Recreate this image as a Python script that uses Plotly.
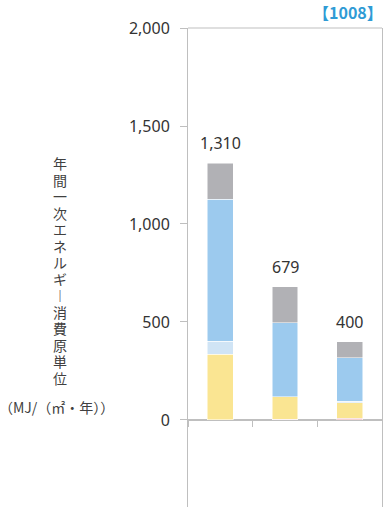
import plotly.graph_objects as go

# ---- data ----
categories = ["A", "B", "C"]
seg_pink = [0, 4, 8]
seg_yellow = [336, 115, 79]
seg_paleblue = [67, 0, 8]
seg_blue = [723, 378, 223]
seg_gray = [184, 182, 82]
totals = [1310, 679, 400]
y_ticks = [0, 500, 1000, 1500, 2000]

y_min, y_max = -444, 2000

series = [
    ("pink", seg_pink, "#E8A3A3"),
    ("yellow", seg_yellow, "#FAE592"),
    ("paleblue", seg_paleblue, "#D0E4F5"),
    ("blue", seg_blue, "#9CCAEE"),
    ("gray", seg_gray, "#B1B1B5"),
]

FONT = "Noto Sans CJK JP"
NUMFONT = "Noto Sans"
TXT = "#404040"
AX = "#BFBFBF"

fig = go.Figure()
for name, vals, col in series:
    fig.add_trace(go.Bar(
        x=categories, y=vals, name=name,
        marker=dict(color=col, line=dict(color="white", width=0.5)),
        width=0.4, hoverinfo="skip",
    ))

for c, t in zip(categories, totals):
    fig.add_annotation(x=c, y=t, text=f"{t:,}", showarrow=False,
                       yanchor="middle", yshift=20,
                       font=dict(family=NUMFONT, size=16, color="#333333"))

zero_pos = (0 - y_min) / (y_max - y_min)

fig.update_layout(
    width=384, height=507,
    margin=dict(l=188, r=2, t=28, b=0),
    barmode="stack",
    showlegend=False,
    plot_bgcolor="white", paper_bgcolor="white",
    font=dict(family=FONT, color=TXT),
    xaxis=dict(type="category", anchor="free", position=zero_pos,
               showline=True, linecolor=AX, linewidth=1,
               ticks="outside", tickson="boundaries", ticklen=6,
               tickcolor=AX, showticklabels=False, showgrid=False,
               range=[-0.5, 2.5], fixedrange=True),
    yaxis=dict(range=[y_min, y_max], tickvals=y_ticks, tickformat=",",
               showline=True, mirror=True, linecolor=AX, linewidth=1,
               ticks="outside", ticklen=7, tickcolor=AX,
               ticklabelstandoff=7,
               tickfont=dict(family=NUMFONT, size=16, color="#333333"),
               zeroline=True, zerolinecolor=AX, zerolinewidth=1,
               showgrid=False, fixedrange=True),
    shapes=[dict(type="line", xref="paper", yref="paper", x0=0, x1=1,
                 y0=1, y1=1, line=dict(color=AX, width=1))],
)

# vertical axis title, one character per line
vertical_title = "年間一次エネルギ︱消費原単位"
pitch = 16.5
for i, ch in enumerate(vertical_title):
    fig.add_annotation(xref="paper", yref="paper", x=-0.66, y=1.0,
                       xanchor="center", yanchor="middle", showarrow=False,
                       yshift=-(135 + i * pitch), text=ch,
                       font=dict(family=FONT, size=14, color=TXT))
fig.add_annotation(xref="paper", yref="paper", x=-0.68, y=1.0,
                   xanchor="center", yanchor="middle", showarrow=False,
                   yshift=-(407 - 28),
                   text="（MJ/（㎡・年））",
                   font=dict(family=FONT, size=14, color=TXT))
fig.add_annotation(xref="paper", yref="paper", x=1.0, y=1.0,
                   xanchor="right", yanchor="bottom", yshift=2, xshift=3,
                   showarrow=False,
                   text="<b>【1008】</b>",
                   font=dict(family=FONT, size=16, color="#2F9BD5"))

fig.write_html("out.html", config={"displayModeBar": False},
               post_script="document.body.style.margin='0';")
